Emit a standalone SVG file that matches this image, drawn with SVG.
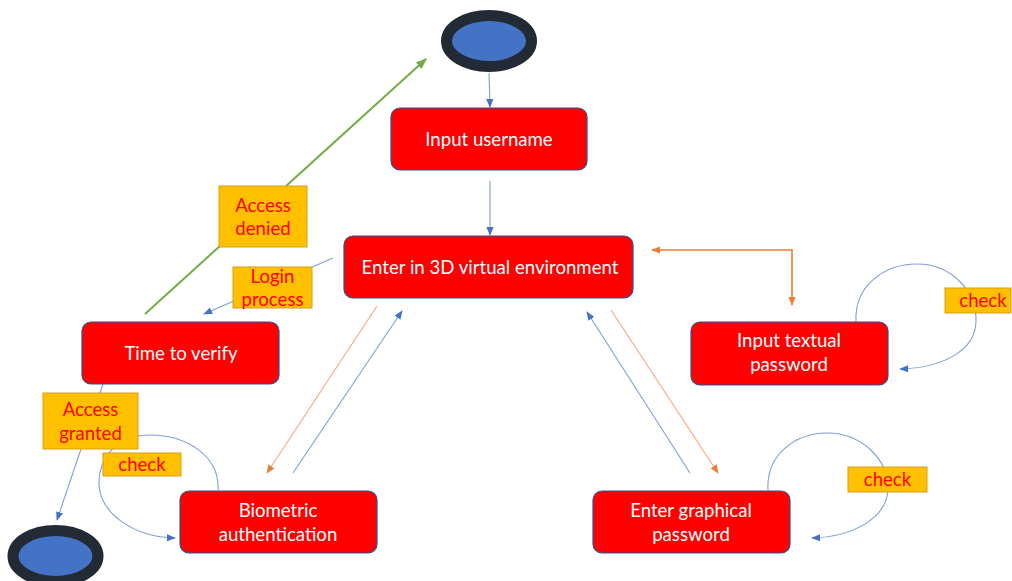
<svg xmlns="http://www.w3.org/2000/svg" width="1012" height="581" viewBox="0 0 1012 581">
  <style>
    .box { fill: #ff0000; stroke: #2f528f; stroke-width: 1.2; }
    .box-text { fill: #ffffff; font-family: Lato, "Open Sans", sans-serif; font-size: 18.6px; text-anchor: middle; }
    .tag { fill: #ffc000; stroke: #d4a017; stroke-width: 1; }
    .tag-text { fill: #ff0000; font-family: Lato, "Open Sans", sans-serif; font-size: 18.6px; text-anchor: middle; }
    .terminal { fill: #4472c4; stroke: #222a35; stroke-width: 11; }
    .blue { fill: none; stroke: #7f9fd6; stroke-width: 1.1; }
    .orange { fill: none; stroke: #f4a876; stroke-width: 1.1; }
    .orange-strong { fill: none; stroke: #ed7d31; stroke-width: 1.6; }
    .green { fill: none; stroke: #70ad47; stroke-width: 2; }
  </style>
  <defs>
    <marker id="arrow-blue" viewBox="0 0 10 10" refX="9" refY="5" markerWidth="9" markerHeight="9" markerUnits="userSpaceOnUse" orient="auto">
      <path d="M0,1 L10,5 L0,9 Z" fill="#4472c4"/>
    </marker>
    <marker id="arrow-orange" viewBox="0 0 10 10" refX="9" refY="5" markerWidth="9" markerHeight="9" markerUnits="userSpaceOnUse" orient="auto">
      <path d="M0,1 L10,5 L0,9 Z" fill="#ed7d31"/>
    </marker>
    <marker id="arrow-orange-start" viewBox="0 0 10 10" refX="1" refY="5" markerWidth="9" markerHeight="9" markerUnits="userSpaceOnUse" orient="auto">
      <path d="M10,1 L0,5 L10,9 Z" fill="#ed7d31"/>
    </marker>
    <marker id="arrow-green" viewBox="0 0 10 10" refX="9" refY="5" markerWidth="11" markerHeight="11" markerUnits="userSpaceOnUse" orient="auto">
      <path d="M0,1 L10,5 L0,9 Z" fill="#70ad47"/>
    </marker>
  </defs>

  <rect width="1012" height="581" fill="#ffffff"/>

  <!-- connectors -->
  <g id="connectors">
    <line class="blue" x1="489" y1="73" x2="490" y2="107" marker-end="url(#arrow-blue)"/>
    <line class="blue" x1="490" y1="181" x2="490" y2="235" marker-end="url(#arrow-blue)"/>
    <path class="orange-strong" d="M652,250 H792 V305" marker-start="url(#arrow-orange-start)" marker-end="url(#arrow-orange)"/>
    <line class="orange" x1="377" y1="306" x2="267" y2="473" marker-end="url(#arrow-orange)"/>
    <line class="blue" x1="293" y1="473" x2="402" y2="311" marker-end="url(#arrow-blue)"/>
    <line class="blue" x1="690" y1="473" x2="587" y2="312" marker-end="url(#arrow-blue)"/>
    <line class="orange" x1="611" y1="310" x2="718" y2="473" marker-end="url(#arrow-orange)"/>
    <line class="blue" x1="333" y1="258" x2="204" y2="314" marker-end="url(#arrow-blue)"/>
    <line class="green" x1="145" y1="314" x2="426" y2="59" marker-end="url(#arrow-green)"/>
    <line class="blue" x1="103" y1="384" x2="57" y2="520" marker-end="url(#arrow-blue)"/>
    <!-- self loops -->
    <path class="blue" d="M856,322 C854,285 885,264 917,264 C952,264 977,292 976,322 C975,352 940,368 900,369" marker-end="url(#arrow-blue)"/>
    <path class="blue" d="M768,490 C766,455 795,433 827,433 C862,433 889,460 888,490 C886,520 850,537 812,538" marker-end="url(#arrow-blue)"/>
    <path class="blue" d="M218,490 C220,455 185,435 150,435 C115,435 98,460 99,485 C101,515 135,537 175,538" marker-end="url(#arrow-blue)"/>
  </g>

  <!-- terminals -->
  <g id="start">
    <ellipse class="terminal" cx="489" cy="41" rx="42.5" ry="25.5"/>
  </g>
  <g id="end">
    <ellipse class="terminal" cx="55.5" cy="556" rx="42.5" ry="25.5"/>
  </g>

  <!-- process nodes -->
  <g id="input-username">
    <rect class="box" x="391" y="108" width="196" height="62" rx="9"/>
    <text class="box-text" x="489" y="145.5">Input username</text>
  </g>
  <g id="enter-3d">
    <rect class="box" x="344" y="236" width="289" height="62" rx="9"/>
    <text class="box-text" x="490" y="273.5">Enter in 3D virtual environment</text>
  </g>
  <g id="textual-password">
    <rect class="box" x="691" y="322" width="197" height="63" rx="9"/>
    <text class="box-text" x="789" y="347">Input textual</text>
    <text class="box-text" x="789" y="371">password</text>
  </g>
  <g id="graphical-password">
    <rect class="box" x="593" y="491" width="197" height="62" rx="9"/>
    <text class="box-text" x="691" y="517">Enter graphical</text>
    <text class="box-text" x="691" y="541">password</text>
  </g>
  <g id="biometric">
    <rect class="box" x="180" y="491" width="197" height="62" rx="9"/>
    <text class="box-text" x="278" y="517">Biometric</text>
    <text class="box-text" x="278" y="541">authentication</text>
  </g>
  <g id="time-to-verify">
    <rect class="box" x="82" y="322" width="197" height="62" rx="9"/>
    <text class="box-text" x="181" y="359.5">Time to verify</text>
  </g>

  <!-- edge labels -->
  <g id="label-access-denied">
    <rect class="tag" x="219" y="186" width="88" height="61"/>
    <text class="tag-text" x="263" y="211.5">Access</text>
    <text class="tag-text" x="263" y="235">denied</text>
  </g>
  <g id="label-login-process">
    <rect class="tag" x="233" y="267" width="79" height="41"/>
    <text class="tag-text" x="272.5" y="282.5">Login</text>
    <text class="tag-text" x="272.5" y="305.5">process</text>
  </g>
  <g id="label-access-granted">
    <rect class="tag" x="43" y="393" width="95" height="56"/>
    <text class="tag-text" x="90.5" y="415.5">Access</text>
    <text class="tag-text" x="90.5" y="439.5">granted</text>
  </g>
  <g id="label-check-biometric">
    <rect class="tag" x="103" y="453" width="78" height="23"/>
    <text class="tag-text" x="142" y="471">check</text>
  </g>
  <g id="label-check-graphical">
    <rect class="tag" x="848" y="467" width="79" height="25"/>
    <text class="tag-text" x="887.5" y="486">check</text>
  </g>
  <g id="label-check-textual">
    <rect class="tag" x="945" y="288" width="66" height="25"/>
    <text class="tag-text" x="983" y="307">check</text>
  </g>
</svg>
